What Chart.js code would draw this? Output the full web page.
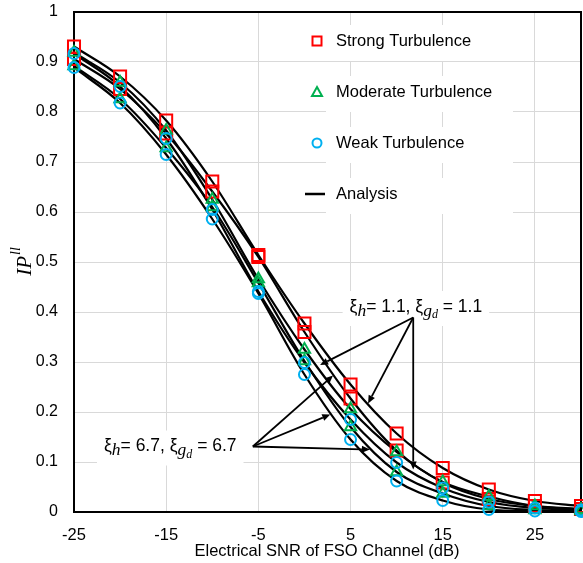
<!DOCTYPE html>
<html><head><meta charset="utf-8">
<script src="https://cdn.jsdelivr.net/npm/chart.js@4/dist/chart.umd.min.js"></script>
<style>html,body{margin:0;padding:0;background:#fff;overflow:hidden}canvas{display:block}</style>
</head><body><canvas id="c" width="583" height="563" style="width:583px;height:563px"></canvas>
<script>
// ---- data ----
const snr = [-25,-20,-15,-10,-5,0,5,10,15,20,25,30];
const strongA   = [0.931,0.871,0.783,0.661,0.514,0.377,0.255,0.157,0.088,0.045,0.022,0.012];
const strongB   = [0.906,0.846,0.757,0.641,0.510,0.360,0.227,0.123,0.059,0.026,0.012,0.006];
const moderateA = [0.919,0.859,0.763,0.625,0.466,0.325,0.206,0.120,0.060,0.031,0.012,0.005];
const moderateB = [0.892,0.826,0.728,0.610,0.458,0.302,0.170,0.080,0.037,0.012,0.004,0.002];
const weakA     = [0.917,0.851,0.747,0.605,0.441,0.299,0.185,0.099,0.048,0.020,0.008,0.004];
const weakB     = [0.889,0.818,0.715,0.586,0.437,0.275,0.145,0.062,0.023,0.005,0.002,0.001];
const xTicks = [-25,-15,-5,5,15,25];
const yTicks = [0,0.1,0.2,0.3,0.4,0.5,0.6,0.7,0.8,0.9,1];
const legendLabels = ['Strong Turbulence','Moderate Turbulence','Weak Turbulence','Analysis'];
const xTitle = 'Electrical SNR of FSO Channel (dB)';
// annotation arrows in data units [snr, value]
const ann1Origin = [11.8, 0.389];
const ann1Targets = [[1.7, 0.294],[6.9, 0.217],[11.8, 0.085]];
const ann1Text = [4.9, 0.41];
const ann1Value = '1.1';
const ann2Origin = [-5.6, 0.131];
const ann2Targets = [[3.1, 0.273],[2.8, 0.195],[7.1, 0.125]];
const ann2Text = [-21.75, 0.131];
const ann2Value = '6.7';

const RED='#ff0000', GREEN='#00b050', BLUE='#00b0f0';
const FONT = "'Liberation Sans', Arial, sans-serif";
const pts = arr => snr.map((x,i)=>({x, y: arr[i]}));

function lineDs(arr){
  return {data: pts(arr), borderColor:'#000', borderWidth:2.2, pointRadius:0, cubicInterpolationMode:'monotone', order:10, clip:false, fill:false};
}
function markDs(arr, style, color, r, ord){
  return {data: pts(arr), showLine:false, pointStyle:style, pointRadius:r, pointBorderColor:color, pointBackgroundColor:'rgba(0,0,0,0)', pointBorderWidth:2, order:ord, clip:false};
}

function drawArrow(ctx, x1,y1,x2,y2){
  const a = Math.atan2(y2-y1, x2-x1), L=8, W=3.5;
  const bx = x2 - L*Math.cos(a), by = y2 - L*Math.sin(a);
  ctx.beginPath(); ctx.moveTo(x1,y1); ctx.lineTo(bx,by); ctx.stroke();
  ctx.beginPath(); ctx.moveTo(x2,y2);
  ctx.lineTo(bx + W*Math.sin(a), by - W*Math.cos(a));
  ctx.lineTo(bx - W*Math.sin(a), by + W*Math.cos(a));
  ctx.closePath(); ctx.fill();
}

function richSegs(v){
  return [
    {t:'ξ', f:"17.5px "+FONT, dy:0},
    {t:'h', f:"italic 17.5px 'Liberation Serif', serif", dy:4},
    {t:'= '+v+', ξ', f:"17.5px "+FONT, dy:0},
    {t:'g', f:"italic 17.5px 'Liberation Serif', serif", dy:4},
    {t:'d', f:"italic 12px 'Liberation Serif', serif", dy:8},
    {t:' = '+v, f:"17.5px "+FONT, dy:0}
  ];
}
function richWidth(ctx, segs){ let w=0; segs.forEach(s=>{ctx.font=s.f; w+=ctx.measureText(s.t).width;}); return w; }
function drawRich(ctx, segs, x, y){
  ctx.textBaseline='middle'; ctx.textAlign='left'; ctx.fillStyle='#000';
  segs.forEach(s=>{ctx.font=s.f; ctx.fillText(s.t, x, y+s.dy); x+=ctx.measureText(s.t).width;});
}

const deco = {
  id:'deco',
  beforeDatasetsDraw(chart){
    const {ctx, chartArea:ca, scales:{x,y}} = chart;
    ctx.save();
    ctx.fillStyle='#fff';
    for(let i=0;i<4;i++){
      const cy = 41 + i*51;
      ctx.fillRect(326, cy-16, 187, 36);
    }
    [[ann1Text, ann1Value],[ann2Text, ann2Value]].forEach(([p,v])=>{
      const segs = richSegs(v); const w = richWidth(ctx, segs);
      const px = x.getPixelForValue(p[0]), py = y.getPixelForValue(p[1]);
      ctx.fillStyle='#fff';
      ctx.fillRect(px-7, py-16, w+14, 35);
    });
    ctx.strokeStyle='#000'; ctx.lineWidth=2;
    ctx.strokeRect(ca.left, ca.top, ca.right-ca.left, ca.bottom-ca.top);
    ctx.restore();
  },
  afterDatasetsDraw(chart){
    const {ctx, chartArea:ca, scales:{x,y}} = chart;
    ctx.save();
    ctx.strokeStyle='#000'; ctx.fillStyle='#000'; ctx.lineWidth=1.8;
    [[ann1Origin, ann1Targets],[ann2Origin, ann2Targets]].forEach(([o,ts])=>{
      const ox=x.getPixelForValue(o[0]), oy=y.getPixelForValue(o[1]);
      ts.forEach(t=>drawArrow(ctx, ox, oy, x.getPixelForValue(t[0]), y.getPixelForValue(t[1])));
    });
    [[ann1Text, ann1Value],[ann2Text, ann2Value]].forEach(([p,v])=>{
      drawRich(ctx, richSegs(v), x.getPixelForValue(p[0]), y.getPixelForValue(p[1]));
    });
    const lx = 317;
    ctx.lineWidth=2;
    let cy = 41;
    ctx.strokeStyle=RED; ctx.strokeRect(lx-4.5, cy-4.5, 9, 9);
    cy = 92;
    ctx.strokeStyle=GREEN; ctx.beginPath(); ctx.moveTo(lx, cy-5); ctx.lineTo(lx+5, cy+4); ctx.lineTo(lx-5, cy+4); ctx.closePath(); ctx.stroke();
    cy = 143;
    ctx.strokeStyle=BLUE; ctx.beginPath(); ctx.arc(lx, cy, 4.5, 0, Math.PI*2); ctx.stroke();
    cy = 194;
    ctx.strokeStyle='#000'; ctx.lineWidth=2.5; ctx.beginPath(); ctx.moveTo(lx-12, cy); ctx.lineTo(lx+8, cy); ctx.stroke();
    ctx.fillStyle='#000'; ctx.font='16.5px '+FONT; ctx.textBaseline='middle'; ctx.textAlign='left';
    legendLabels.forEach((t,i)=>ctx.fillText(t, 336, 41 + i*51));
    ctx.textAlign='center';
    ctx.fillText(xTitle, 327, 551);
    ctx.translate(20, 262); ctx.rotate(-Math.PI/2);
    ctx.font="italic 21px 'Liberation Serif', serif";
    const w1 = ctx.measureText('IP').width;
    ctx.font="italic 14px 'Liberation Serif', serif";
    const w2 = ctx.measureText('ll').width;
    let sx = -(w1+w2)/2;
    ctx.textAlign='left';
    ctx.font="italic 21px 'Liberation Serif', serif";
    ctx.fillText('IP', sx, 5);
    ctx.font="italic 14px 'Liberation Serif', serif";
    ctx.fillText('ll', sx+w1+1, -4);
    ctx.restore();
  }
};

function zeroPad(s){ s.paddingTop=0; s.paddingBottom=0; s.paddingLeft=0; s.paddingRight=0; }

new Chart(document.getElementById('c'), {
  type:'line',
  data:{datasets:[
    lineDs(strongA), lineDs(strongB), lineDs(moderateA), lineDs(moderateB), lineDs(weakA), lineDs(weakB),
    markDs(strongA,'rect',RED,8.5,3), markDs(strongB,'rect',RED,8.5,3),
    markDs(moderateA,'triangle',GREEN,6.5,2), markDs(moderateB,'triangle',GREEN,6.5,2),
    markDs(weakA,'circle',BLUE,5.5,1), markDs(weakB,'circle',BLUE,5.5,1)
  ]},
  options:{
    responsive:false, maintainAspectRatio:false, animation:false, devicePixelRatio:1,
    layout:{autoPadding:false, padding:{top:12,right:2,left:0,bottom:0}},
    plugins:{legend:{display:false}, tooltip:{enabled:false}},
    scales:{
      x:{type:'linear', min:-25, max:30,
        afterBuildTicks:s=>{s.ticks=xTicks.map(v=>({value:v}));},
        afterFit:s=>{s.height=51; zeroPad(s);},
        grid:{color:'#d9d9d9', lineWidth:1, drawTicks:false},
        border:{display:false},
        ticks:{padding:14, color:'#000', font:{family:FONT, size:16.5}, maxRotation:0, autoSkip:false, callback:v=>String(v)}
      },
      y:{type:'linear', min:0, max:1,
        afterBuildTicks:s=>{s.ticks=yTicks.map(v=>({value:v}));},
        afterFit:s=>{s.width=74; zeroPad(s);},
        grid:{color:'#d9d9d9', lineWidth:1, drawTicks:false},
        border:{display:false},
        ticks:{padding:16, color:'#000', font:{family:FONT, size:16}, callback:v=>String(Math.round(v*10)/10)}
      }
    }
  },
  plugins:[deco]
});
</script>
</body></html>
